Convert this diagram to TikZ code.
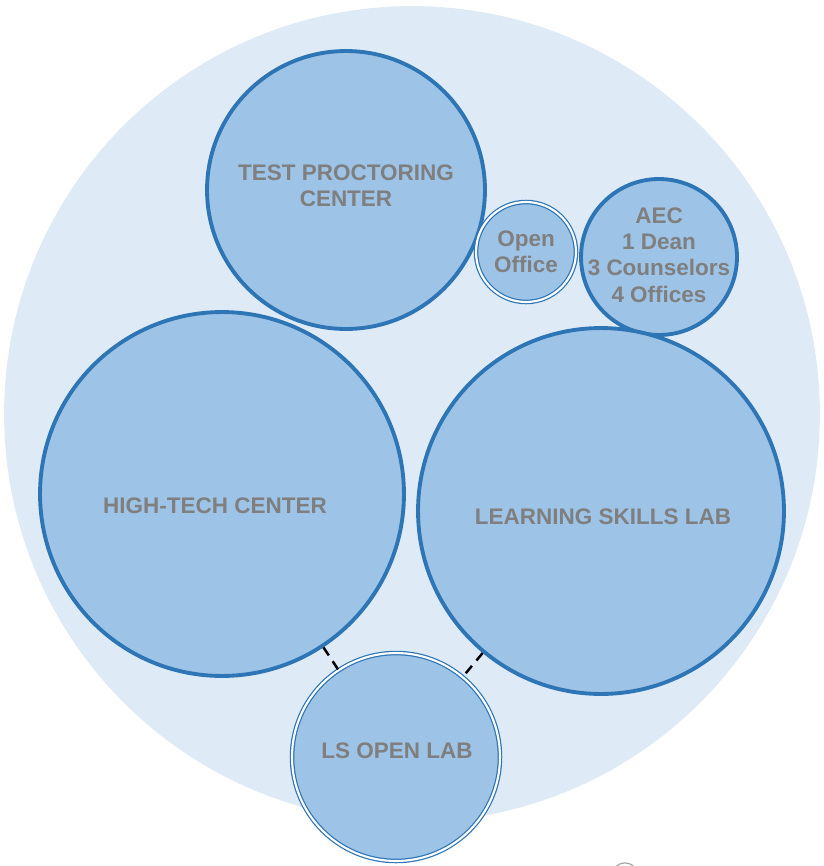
\documentclass[tikz,border=0pt]{standalone}
\usepackage{fontspec}
\setmainfont{Liberation Sans}
\definecolor{bgfill}{HTML}{DEEBF7}
\definecolor{roomfill}{HTML}{9DC3E6}
\definecolor{roomline}{HTML}{2E75B6}
\definecolor{labelgray}{HTML}{7F7F7F}
\begin{document}
\begin{tikzpicture}[
  x=0.02cm, y=-0.02cm,
  room/.style={circle, draw=roomline, line width=2.2pt, fill=roomfill, inner sep=0pt},
  openroom/.style={room, line width=0.7pt, double=white, double distance=1.2pt},
  roomtext/.style={text=labelgray, font=\bfseries\fontsize{12.8}{14.9}\selectfont, align=center, inner sep=0pt},
  link/.style={line width=1.4pt, dash pattern=on 5.5pt off 4pt, black}
]
\useasboundingbox (0,0) rectangle (824,866);

% Background
\node[circle, fill=bgfill, minimum size=16.32cm, inner sep=0pt] (campus) at (412,414) {};

% Rooms
\node[room, minimum size=5.56cm] (tpc) at (346,190) {};
\node[openroom, minimum size=2.0cm] (open) at (526,252) {};
\node[room, minimum size=3.12cm] (aec) at (659,257) {};
\node[room, minimum size=7.28cm] (htc) at (222,494) {};
\node[room, minimum size=7.32cm] (lsl) at (601,511) {};
\node[openroom, minimum size=4.16cm] (lsopen) at (396,757) {};

% Labels
\node[roomtext] (tpclabel) at (346,186) {TEST PROCTORING\\CENTER};
\node[roomtext] (openlabel) at (526,252) {Open\\Office};
\node[roomtext] (aeclabel) at (659,255) {AEC\\1 Dean\\3 Counselors\\4 Offices};
\node[roomtext] (htclabel) at (215,506) {HIGH-TECH CENTER};
\node[roomtext] (lsllabel) at (603,517) {LEARNING SKILLS LAB};
\node[roomtext] (lsopenlabel) at (397,751) {LS OPEN LAB};

% Links
\draw[link] (htc) -- (lsopen);
\draw[link] (lsl) -- (lsopen);

% Cut-off mark
\draw[gray!70, line width=0.7pt] (625,877) circle[radius=0.28cm];

\end{tikzpicture}
\end{document}
